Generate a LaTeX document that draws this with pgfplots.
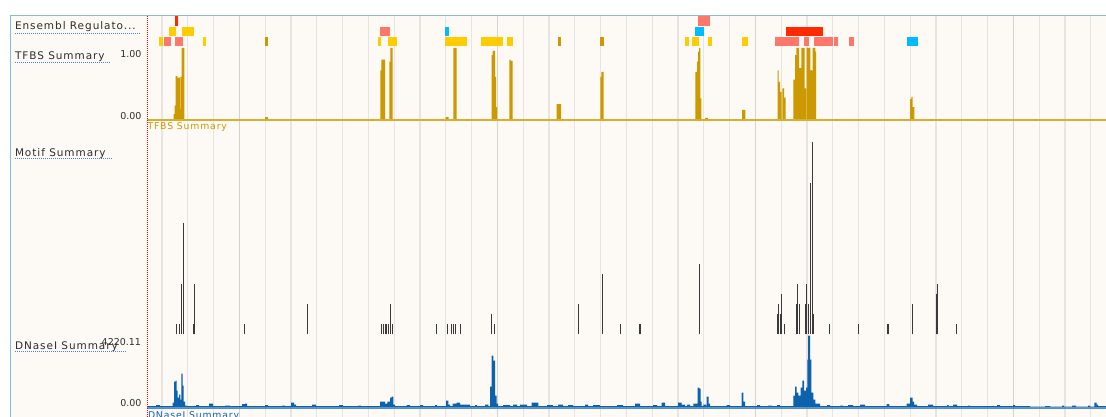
\documentclass[border=0pt]{standalone}
\usepackage{pgfplots}
\pgfplotsset{compat=1.18}
\usepackage{fontspec}
\setmainfont{DejaVu Sans}
\newfontfamily\lblfont[LetterSpace=9]{DejaVu Sans}
\definecolor{cream}{HTML}{FDF9F5}
\definecolor{gridlight}{HTML}{E8E4E1}
\definecolor{griddark}{HTML}{D6D2CF}
\definecolor{framecol}{HTML}{8DB6E3}
\definecolor{tfbs}{HTML}{CC9900}
\definecolor{tfbsline}{HTML}{D9AE2E}
\definecolor{dnase}{HTML}{0D62AD}
\definecolor{dnaseline}{HTML}{4F8FD0}
\definecolor{motif}{HTML}{3A3A3A}
\definecolor{ensred}{HTML}{FF2A00}
\definecolor{enssalmon}{HTML}{FF776B}
\definecolor{ensyellow}{HTML}{FFCC00}
\definecolor{enscyan}{HTML}{00BBFF}
\definecolor{enstan}{HTML}{CC9900}
\definecolor{labeltext}{HTML}{2E2E2E}
\definecolor{underl}{HTML}{4A82CF}
\pgfplotsset{track/.style={scale only axis, width=959pt, xmin=147, xmax=1106,
  axis lines=none, anchor=south west, clip=false}}
\newcommand{\featA}[3]{\addplot[fill=#1,draw=none] coordinates {(#2,2.05) (#3,2.05) (#3,3.0) (#2,3.0)} --cycle;}
\newcommand{\featB}[3]{\addplot[fill=#1,draw=none] coordinates {(#2,1.05) (#3,1.05) (#3,1.98) (#2,1.98)} --cycle;}
\newcommand{\featC}[3]{\addplot[fill=#1,draw=none] coordinates {(#2,0.05) (#3,0.05) (#3,0.98) (#2,0.98)} --cycle;}

\pgfplotstableread{
x y
147 0
173.5 0.08
174.7 0.20
175.5 0.61
177.3 0.59
179.8 0.15
180.3 0.60
181.7 1.00
184.3 0
265 0.04
268 0
380.3 0.69
381.3 0.84
385 0
389.3 0.81
390.3 1.00
392.7 0
445.5 0.04
448.5 0
453.3 1.00
456.7 0
491.7 0.90
492.7 0.96
495 0.60
496 0.18
497 0
509.3 0.84
510.7 0.82
512.7 0
556.7 0.22
561 0
600.3 0.60
601.3 0.67
603.7 0
695.3 0.67
697 0.81
698 0.95
699 1.00
700.3 0.30
701.3 0
705 0.03
708 0
742 0.14
745.3 0
777.7 0.69
778.7 0.53
780 0.39
781.7 0
782.3 0.44
784 0.31
785.7 0
793.3 0.56
795 0.90
796.3 1.00
799 0.72
801.3 1.00
804.7 0.44
806.2 0
806.7 1.00
810.3 0.69
812.7 1.00
815.3 0.95
816 0
910 0.29
911.3 0.32
912.7 0.18
914.3 0
1106 0
}\tfbsdata

\pgfplotstableread{
x y
176.7 1
179 1
181 1
181.7 5
183 11
193.3 1
194.7 5
244 1
307.7 3
381.7 1
383.3 1
385 1
386.7 1
388.3 1
390 3
392.3 1
436 1
447 1
451.7 1
453.3 1
455 1
460.7 1
491.7 2
494 1
578.7 3
602 6
620 1
639 1
640 1
699 7
777 2
778.3 3
780.3 2
781.7 4
784 1
796.3 3
797.7 5
799 3
799.7 1
805 3
806.7 5
808 3
810 5
810.7 15
812 19
813 2
829 1
858 1
887.7 1
888.5 1
912.7 3
936.7 4
937.7 5
956 1
}\motifdata

\pgfplotstableread{
x y
147 88
156 147
160 88
172.5 293
174 1524
175.5 1582
176.5 996
177.5 586
179 762
180.3 469
181.3 1993
182.5 1289
183.5 352
185 117
187 88
196 147
199 88
209 234
213 88
225 117
230 88
242 205
245 234
247 88
265 147
268 88
282 117
285 88
291 293
294 176
296 88
312 176
316 88
339 147
343 88
358 117
361 88
380 352
385 234
387.3 352
390 586
391.7 645
393.3 176
395 88
406.7 147
410 88
420 147
423 88
435 147
437 88
446 410
448.3 176
450 88
452.7 234
456.7 293
460 176
470 88
475 147
477 88
485 176
488.3 88
490 1231
491.7 3047
493.3 2754
495 703
496.7 234
498 88
503 147
510 88
513 176
517 88
520 176
527 88
531.7 293
538.3 88
547 147
553 88
558 176
563 88
568 147
573 88
585 176
588 88
593 147
600 88
617 147
623 88
635 234
640 88
653 147
657 88
661.7 293
665 88
678 293
681.7 176
685 88
687 176
690 88
693.3 234
697.7 1172
699.3 1113
700.7 352
701.7 88
703.3 176
706 88
706.7 645
708.7 234
710 88
726.7 147
730 88
741.7 879
743.3 352
745 88
757 147
760 88
768 117
772 88
777 147
780 88
793.3 703
795 1231
796.7 879
798.3 703
800.7 1172
802.3 1582
804 996
806 1172
807.3 2813
808 4220
810 2813
811.3 879
813.3 469
815.3 234
820 88
827 147
830 88
840 117
843 88
848 147
853 88
860 176
865 88
886.7 205
889.3 88
906.7 234
910 586
912.7 352
914 176
917 88
928 176
933 88
947 147
948.5 88
953 176
957 88
968 117
970 88
997 147
1000 88
1013 147
1015 88
1030 59
1045 88
1050 59
1062 117
1064 59
1072 117
1076 59
1088 117
1090 59
1094.3 293
1096.7 176
1098 88
1106 88
}\dnasedata

\begin{document}
\begin{tikzpicture}[x=1pt,y=1pt]
\fill[white] (0,0) rectangle (1106,417);
\fill[cream] (10,0) rectangle (1106,401);
\draw[framecol, line width=1pt] (10,0) -- (10,401) -- (1106,401);

% grid
\begin{axis}[at={(147pt,0pt)}, anchor=south west, scale only axis, width=959pt, height=401pt,
  xmin=147, xmax=1106, ymin=0, ymax=1,
  axis line style={draw=none}, tick style={draw=none},
  xtick={239.4,497.4,755.4,1013.4},
  minor xtick={162,187.8,213.6,265.2,291,316.8,342.6,368.4,394.2,420,445.8,471.6,523.2,549,574.8,600.6,626.4,652.2,678,703.8,729.6,781.2,807,832.8,858.6,884.4,910.2,936,961.8,987.6,1039.2,1065,1090.8},
  xticklabels={}, ytick=\empty, grid=both,
  major grid style={griddark, line width=1.3pt},
  minor grid style={gridlight, line width=1.3pt}]
\addplot[draw=none] coordinates {(147,0)};
\end{axis}

% Ensembl regulatory features
\begin{axis}[track, at={(147pt,370pt)}, height=31pt, ymin=0, ymax=3]
\featA{ensred}{175}{178.3}
\featA{enssalmon}{698}{709.7}
\featB{ensyellow}{169.3}{176}
\featB{ensyellow}{181.7}{194}
\featB{enssalmon}{380.3}{389.7}
\featB{enscyan}{445.3}{449}
\featB{enscyan}{694.7}{703.7}
\featB{ensred}{785.7}{822.7}
\featC{ensyellow}{159.3}{162.7}
\featC{enssalmon}{163.7}{170.7}
\featC{enssalmon}{175}{182.7}
\featC{ensyellow}{202.7}{206.3}
\featC{enstan}{265}{268.3}
\featC{ensyellow}{378}{381.3}
\featC{ensyellow}{388.3}{397.3}
\featC{ensyellow}{445.3}{467}
\featC{ensyellow}{481.3}{502.7}
\featC{ensyellow}{507}{513}
\featC{enstan}{557.7}{561.3}
\featC{enstan}{600.3}{604}
\featC{ensyellow}{684.7}{689}
\featC{ensyellow}{692.3}{699.3}
\featC{ensyellow}{708}{711.7}
\featC{ensyellow}{741.7}{747.7}
\featC{enssalmon}{775.3}{799}
\featC{enssalmon}{803.7}{809.3}
\featC{enssalmon}{813.7}{833}
\featC{enssalmon}{834}{838.3}
\featC{enssalmon}{849.3}{854}
\featC{enscyan}{906.7}{918.3}
\end{axis}

% TFBS summary
\begin{axis}[track, at={(147pt,297pt)}, height=72pt, ymin=0, ymax=1]
\addplot[const plot, fill=tfbs, draw=none] table[x=x,y=y] {\tfbsdata} \closedcycle;
\addplot[tfbsline, line width=1.3pt] coordinates {(147,0) (1106,0)};
\end{axis}

% Motif summary
\begin{axis}[track, at={(147pt,82.7pt)}, height=202pt, ymin=0, ymax=20]
\addplot[ycomb, motif, line width=0.9pt] table[x=x,y=y] {\motifdata};
\end{axis}

% DNaseI summary
\begin{axis}[track, at={(147pt,9.3pt)}, height=72pt, ymin=0, ymax=4220.11]
\addplot[dnaseline, line width=1pt] coordinates {(147,-20) (1106,-20)};
\addplot[const plot, fill=dnase, draw=none] table[x=x,y=y] {\dnasedata} \closedcycle;
\end{axis}

% labels
\begin{scope}[every node/.style={inner sep=0pt, outer sep=0pt}]
\node[anchor=base west, text=labeltext, font=\lblfont\fontsize{10.5}{12}\selectfont] at (15,387) {Ensembl Regulato...};
\node[anchor=base west, text=labeltext, font=\lblfont\fontsize{10.5}{12}\selectfont] at (15,357) {TFBS Summary};
\node[anchor=base west, text=labeltext, font=\lblfont\fontsize{10.5}{12}\selectfont] at (15,260.3) {Motif Summary};
\node[anchor=base west, text=labeltext, font=\lblfont\fontsize{10.5}{12}\selectfont] at (15,67.7) {DNaseI Summary};
\node[anchor=base east, text=labeltext, font=\fontsize{9.5}{11}\selectfont] at (141.5,359.5) {1.00};
\node[anchor=base east, text=labeltext, font=\fontsize{9.5}{11}\selectfont] at (141.5,297.7) {0.00};
\node[anchor=base east, text=labeltext, font=\fontsize{9.5}{11}\selectfont] at (141,71) {4220.11};
\node[anchor=base east, text=labeltext, font=\fontsize{9.5}{11}\selectfont] at (141.5,10.3) {0.00};
\node[anchor=base west, text=tfbs, font=\lblfont\fontsize{9.3}{11}\selectfont] at (147.5,287.7) {TFBS Summary};
\node[anchor=base west, text=dnase, font=\lblfont\fontsize{9.3}{11}\selectfont] at (148,-1.5) {DNaseI Summary};
\end{scope}
\begin{scope}[underl, dash pattern=on 1pt off 1pt, line width=0.8pt]
\draw (15,384) -- (141,384);
\draw (15,354.5) -- (110,354.5);
\draw (15,258.5) -- (112,258.5);
\draw (15,66) -- (126,66);
\end{scope}
\draw[red, dash pattern=on 1pt off 1pt, line width=0.8pt] (147,0) -- (147,401);
\pgfresetboundingbox
\path[use as bounding box] (0,0) rectangle (1106,417);
\end{tikzpicture}
\end{document}
